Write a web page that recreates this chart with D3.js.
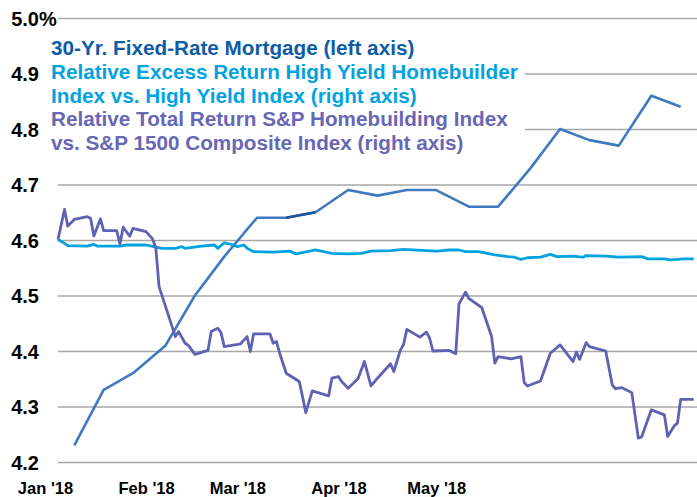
<!DOCTYPE html>
<html>
<head>
<meta charset="utf-8">
<script src="https://cdn.jsdelivr.net/npm/d3@7"></script>
<style>
body { margin: 0; background: #fff; }
text { font-family: "Liberation Sans", Arial, Helvetica, sans-serif; font-weight: bold; }
</style>
</head>
<body>
<svg id="chart"></svg>
<script>
var width = 697,
    height = 497;

// x labels and left axis ticks
var monthLabels = ["Jan '18", "Feb '18", "Mar '18", "Apr '18", "May '18"];
var leftTicks = [4.2, 4.3, 4.4, 4.5, 4.6, 4.7, 4.8, 4.9, 5.0];

// 30-yr fixed mortgage rate (left axis, %), x = days after Jan 1 2018
var mortDays = [5, 14, 23, 33, 42, 51, 61, 70, 79, 89, 98, 107, 116, 126, 135, 145, 154, 163, 172, 182, 191];
var mortRate = [4.23, 4.33, 4.36, 4.41, 4.50, 4.57, 4.64, 4.64, 4.65, 4.69, 4.68, 4.69, 4.69, 4.66, 4.66, 4.73, 4.80, 4.78, 4.77, 4.86, 4.84];

// relative excess return, HY homebuilder vs HY index (right axis)
var excessDays = [0, 2, 3, 9, 11, 12, 19, 21, 27, 30, 32, 36, 38, 39, 44, 48, 49, 51, 54, 55, 57, 58, 60, 66, 71, 73, 79, 84, 89, 93, 96, 102, 106, 113, 116, 120, 123, 125, 129, 134, 138, 140, 142, 144, 148, 151, 153, 158, 161, 162, 168, 172, 179, 181, 186, 188, 192, 195];
var excessVal = [1.001, 0.994, 0.990, 0.989, 0.992, 0.989, 0.989, 0.991, 0.991, 0.987, 0.985, 0.985, 0.988, 0.985, 0.989, 0.991, 0.985, 0.995, 0.991, 0.988, 0.991, 0.985, 0.979, 0.978, 0.980, 0.975, 0.982, 0.976, 0.975, 0.976, 0.980, 0.981, 0.983, 0.981, 0.980, 0.982, 0.982, 0.979, 0.979, 0.973, 0.970, 0.969, 0.965, 0.968, 0.969, 0.974, 0.970, 0.971, 0.969, 0.972, 0.971, 0.969, 0.970, 0.966, 0.966, 0.964, 0.966, 0.966];

// relative total return, S&P homebuilding vs S&P 1500 (right axis)
var totalDays = [0, 2, 3, 5, 9, 10, 11, 13, 14, 18, 19, 20, 22, 23, 27, 29, 30, 31, 33, 35, 36, 37, 39, 40, 42, 46, 47, 49, 50, 51, 56, 58, 59, 60, 65, 66, 67, 68, 70, 74, 75, 76, 78, 83, 84, 86, 87, 89, 92, 94, 96, 98, 102, 103, 105, 106, 107, 111, 113, 114, 115, 120, 122, 123, 125, 126, 130, 133, 134, 135, 139, 142, 143, 144, 148, 151, 154, 158, 159, 160, 162, 163, 168, 170, 171, 173, 176, 178, 179, 182, 186, 187, 189, 190, 191, 195];
var totalVal = [1.001, 1.055, 1.025, 1.037, 1.042, 1.039, 1.007, 1.038, 1.017, 1.017, 0.993, 1.023, 1.007, 1.021, 1.015, 1.002, 0.986, 0.916, 0.880, 0.844, 0.826, 0.835, 0.814, 0.810, 0.794, 0.801, 0.835, 0.841, 0.833, 0.808, 0.813, 0.826, 0.799, 0.831, 0.831, 0.814, 0.817, 0.796, 0.760, 0.745, 0.718, 0.689, 0.728, 0.719, 0.751, 0.754, 0.745, 0.733, 0.750, 0.781, 0.737, 0.751, 0.777, 0.763, 0.801, 0.812, 0.839, 0.825, 0.834, 0.823, 0.800, 0.801, 0.795, 0.885, 0.906, 0.895, 0.878, 0.826, 0.778, 0.790, 0.786, 0.790, 0.743, 0.737, 0.746, 0.796, 0.811, 0.781, 0.798, 0.785, 0.815, 0.808, 0.800, 0.739, 0.732, 0.734, 0.725, 0.643, 0.645, 0.694, 0.685, 0.646, 0.665, 0.670, 0.713, 0.713];

var legendText = [
  "30-Yr. Fixed-Rate Mortgage (left axis)",
  "Relative Excess Return High Yield Homebuilder",
  "Index vs. High Yield Index (right axis)",
  "Relative Total Return S&P Homebuilding Index",
  "vs. S&P 1500 Composite Index (right axis)"
];
var legendColor = ["#0d5ca6", "#00a3e0", "#00a3e0", "#6867b6", "#6867b6"];

var start = new Date(2018, 0, 1);
var day = function(d) { return d3.timeDay.offset(start, d); };

var x = d3.scaleTime()
  .domain([start, day(196)])
  .range([58, width]);

var y = d3.scaleLinear().domain([4.2, 5.0]).range([462, 18]);
var yRight = d3.scaleLinear().domain([0.6, 1.4]).range([462, 18]);

var svg = d3.select("#chart")
  .attr("width", width)
  .attr("height", height);

svg.append("rect").attr("width", width).attr("height", height).attr("fill", "#fff");

// left axis with gridlines
var yAxis = svg.append("g")
  .attr("transform", "translate(58,0)")
  .call(d3.axisLeft(y).tickValues(leftTicks).tickSize(-(width - 58)).tickFormat(d3.format(".1f")));
yAxis.select(".domain").remove();
yAxis.selectAll(".tick line").attr("stroke", "#a6a6a6").attr("stroke-width", 1.5);
yAxis.selectAll(".tick text")
  .attr("x", -19)
  .attr("dy", "0.36em")
  .attr("fill", "#000")
  .style("font-size", "20px");
yAxis.selectAll(".tick").filter(function(d) { return d === 5.0; })
  .append("text")
  .attr("x", -19)
  .attr("dy", "0.36em")
  .attr("text-anchor", "start")
  .attr("fill", "#000")
  .style("font-size", "20px")
  .text("%");

// x axis labels
var xAxis = svg.append("g")
  .attr("transform", "translate(0,462)")
  .call(d3.axisBottom(x)
    .tickValues(d3.timeMonth.range(start, new Date(2018, 5, 1)))
    .tickSize(0)
    .tickFormat(function(d, i) { return monthLabels[i]; }));
xAxis.select(".domain").remove();
xAxis.selectAll(".tick text")
  .attr("x", -13)
  .attr("y", 26)
  .attr("dy", "0.35em")
  .attr("fill", "#000")
  .style("font-size", "16.5px");

// legend box hides gridlines behind it
svg.append("rect")
  .attr("x", 45).attr("y", 30)
  .attr("width", 480).attr("height", 128)
  .attr("fill", "#fff");

svg.append("g").selectAll("text")
  .data(legendText)
  .enter().append("text")
  .attr("x", 51)
  .attr("y", function(d, i) { return 55 + i * 23.8; })
  .attr("fill", function(d, i) { return legendColor[i]; })
  .style("font-size", "20.7px")
  .text(function(d) { return d; });

// lines
var mortLine = d3.line()
  .x(function(d) { return x(day(mortDays[d])); })
  .y(function(d) { return y(mortRate[d]); });

var rightLine = function(days, vals) {
  return d3.line()
    .x(function(d, i) { return x(day(days[i])); })
    .y(function(d) { return yRight(d); })(vals);
};

svg.append("path")
  .attr("d", mortLine(d3.range(mortDays.length)))
  .attr("fill", "none")
  .attr("stroke", "#3f79bf")
  .attr("stroke-width", 2.6)
  .attr("stroke-linejoin", "round");

svg.append("path")
  .attr("d", mortLine([7, 8]))
  .attr("fill", "none")
  .attr("stroke", "#1d5596")
  .attr("stroke-width", 2.6);

svg.append("path")
  .attr("d", rightLine(excessDays, excessVal))
  .attr("fill", "none")
  .attr("stroke", "#00a3e0")
  .attr("stroke-width", 2.8)
  .attr("stroke-linejoin", "round");

svg.append("path")
  .attr("d", rightLine(totalDays, totalVal))
  .attr("fill", "none")
  .attr("stroke", "#5f61b2")
  .attr("stroke-width", 2.8)
  .attr("stroke-linejoin", "round");
</script>
</body>
</html>
